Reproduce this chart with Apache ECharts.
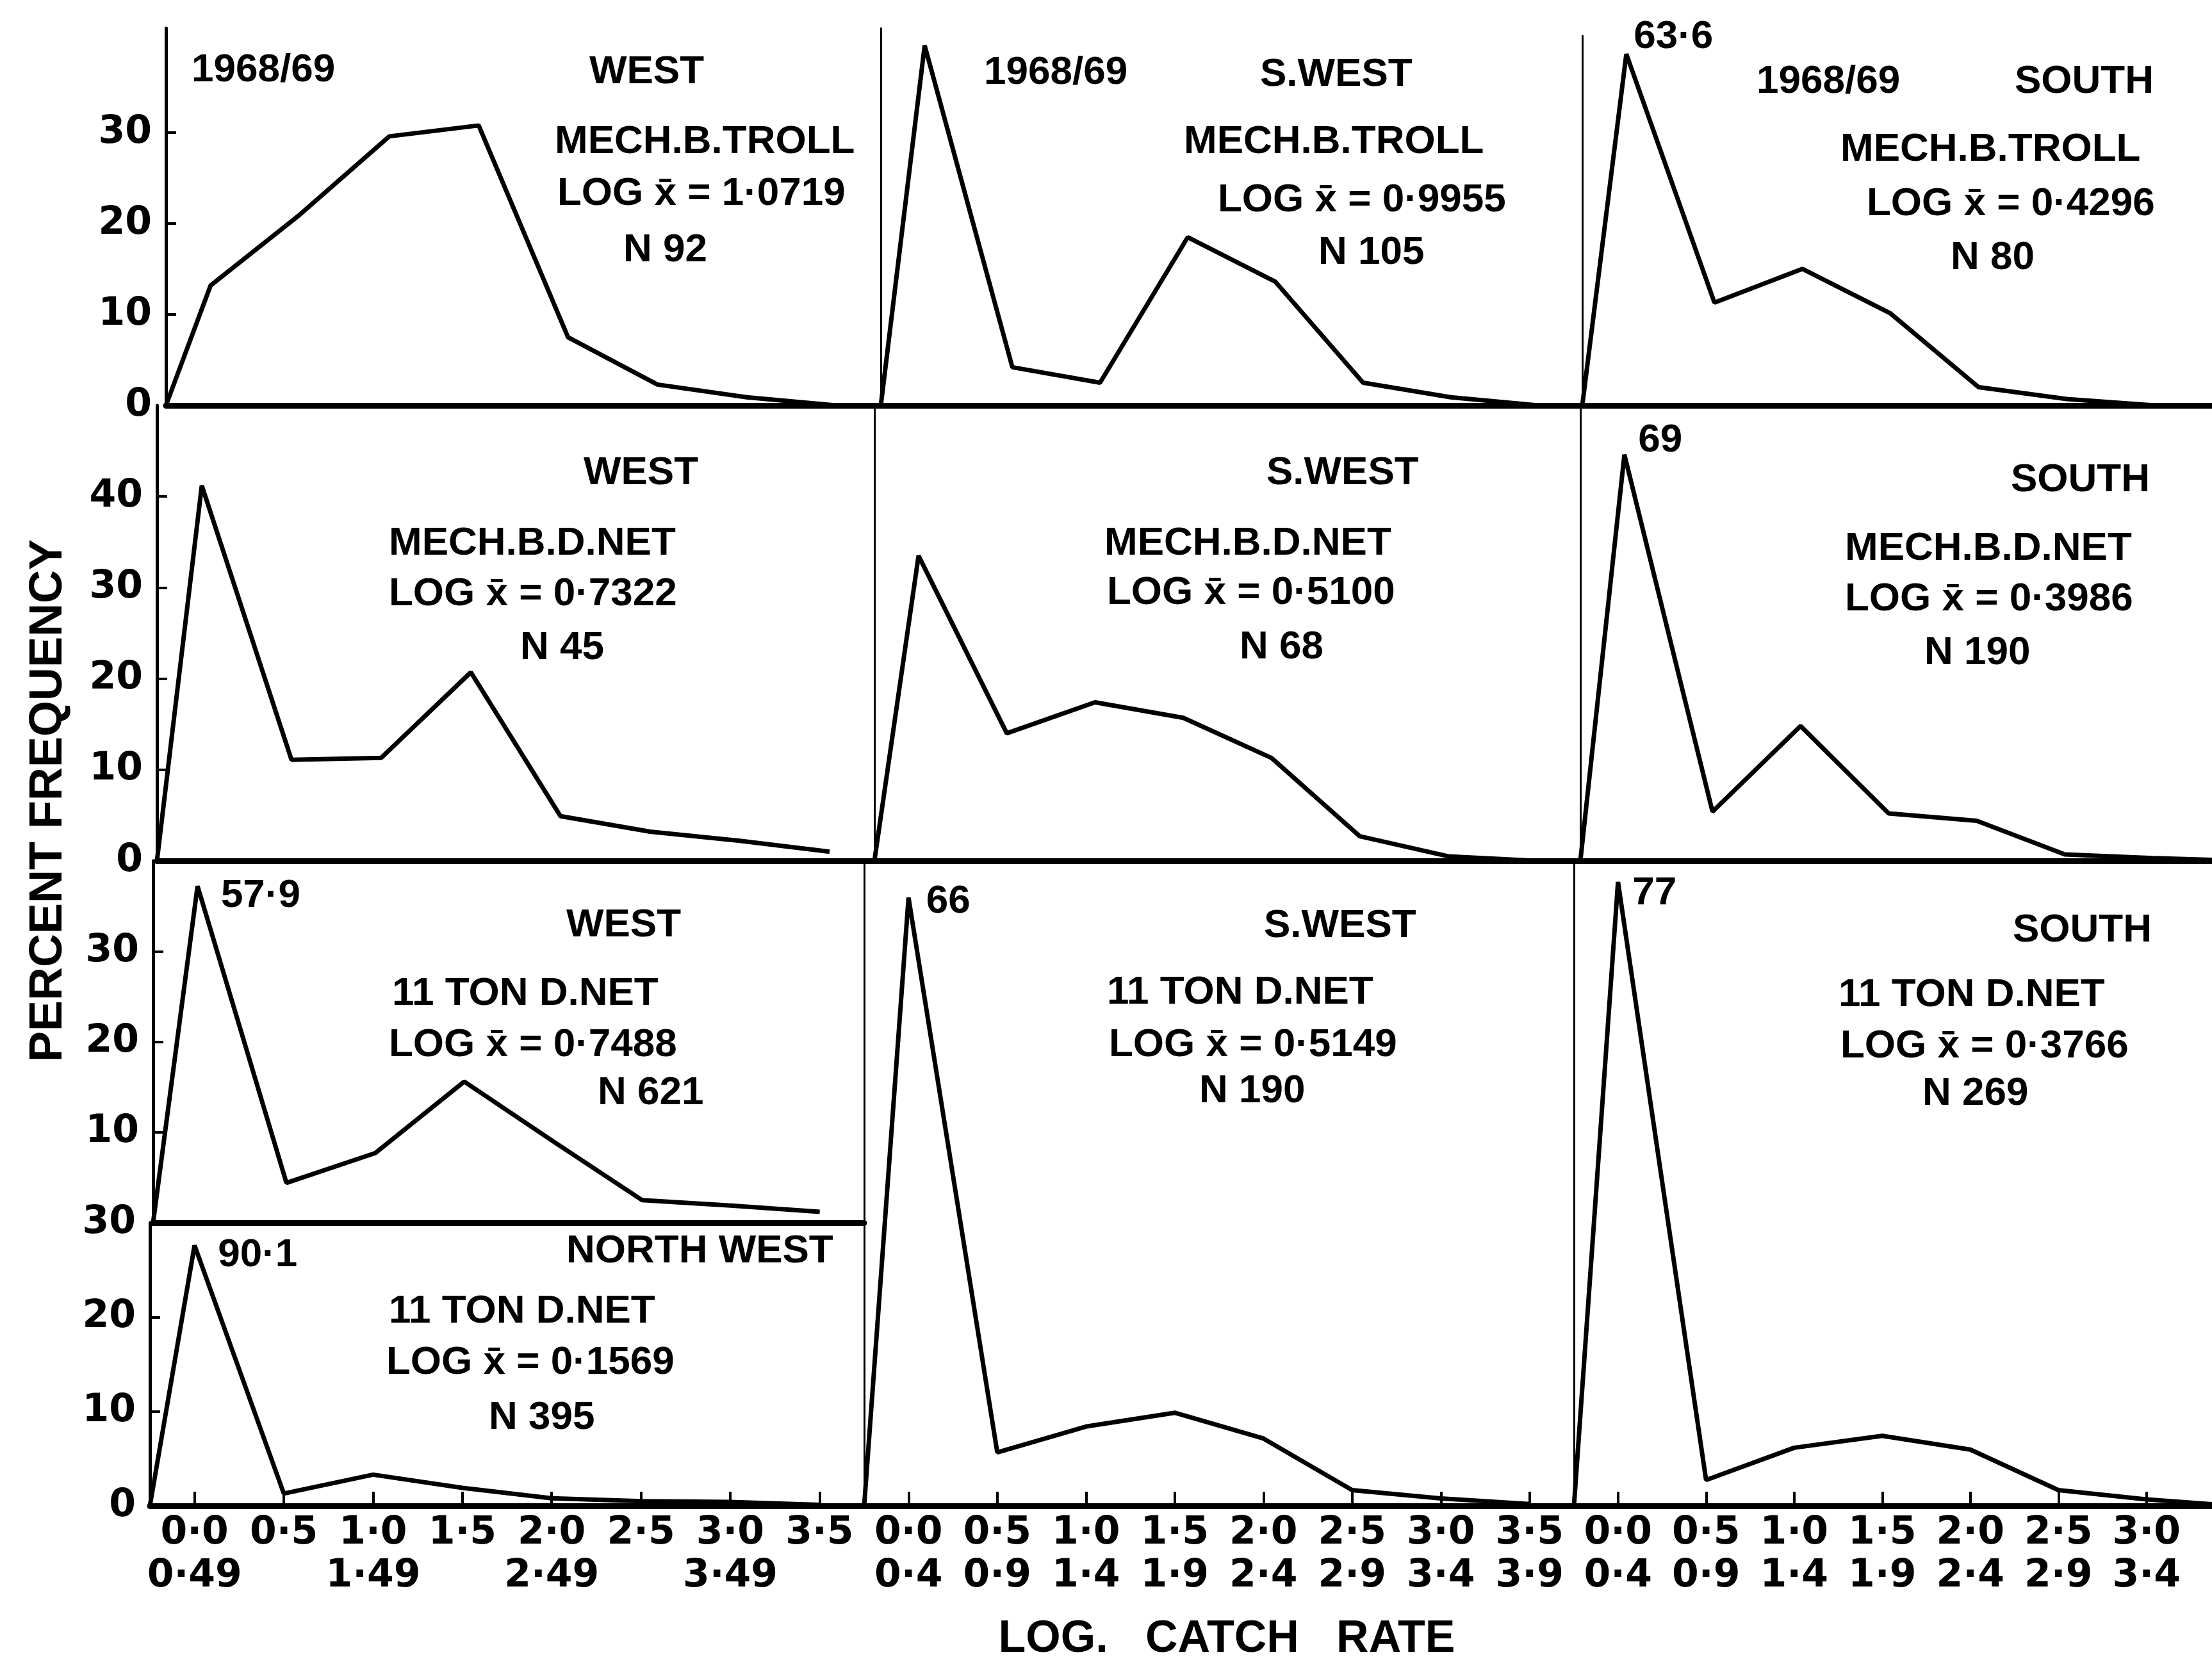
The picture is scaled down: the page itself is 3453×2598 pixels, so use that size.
<!DOCTYPE html>
<html>
<head>
<meta charset="utf-8">
<script src="https://cdn.jsdelivr.net/npm/echarts@6/dist/echarts.min.js"></script>
<style>
  html, body { margin: 0; padding: 0; background: #fff; }
  #chart { width: 3453px; height: 2598px; }
</style>
</head>
<body>
<div id="chart"></div>
<script>
// log catch rate classes
const binStarts = ['0·0', '0·5', '1·0', '1·5', '2·0', '2·5', '3·0', '3·5'];
const binEnds = ['0·4', '0·9', '1·4', '1·9', '2·4', '2·9', '3·4', '3·9'];
const binEndsWest = ['0·49', '', '1·49', '', '2·49', '', '3·49', ''];

// percent frequency in each class (as drawn)
const westTroll = [13.2, 21.0, 29.6, 30.8, 7.5, 2.3, 0.9, 0];
const swTroll = [39.6, 4.2, 2.5, 18.5, 13.6, 2.5, 0.9, 0];
const southTroll = [38.6, 11.3, 15.0, 10.1, 2.0, 0.7, 0, 0];
const westNet = [41.2, 11.1, 11.3, 20.7, 4.9, 3.2, 2.2, 1.0];
const swNet = [33.5, 14.0, 17.4, 15.7, 11.3, 2.7, 0.5, 0];
const southNet = [44.6, 5.4, 14.8, 5.2, 4.4, 0.7, 0.3, 0];
const westTon = [37.2, 4.4, 7.7, 15.6, 9.0, 2.5, 1.9, 1.2];
const nwTon = [27.6, 1.3, 3.3, 1.9, 0.8, 0.5, 0.4, 0.1];
const swTon = [66.0, 5.8, 8.6, 10.1, 7.3, 1.7, 0.8, 0.2];
const southTon = [67.7, 2.8, 6.3, 7.6, 6.1, 1.7, 0.7, 0];

// true value written beside a cut-off first peak
const peakLabels = ['', '', '63·6', '', '', '69', '57·9', '90·1', '66', '77'];

// panel captions
const seasons = ['1968/69', '1968/69', '1968/69'];
const regions = ['WEST', 'S.WEST', 'SOUTH', 'WEST', 'S.WEST', 'SOUTH', 'WEST', 'NORTH WEST', 'S.WEST', 'SOUTH'];
const gears = ['MECH.B.TROLL', 'MECH.B.TROLL', 'MECH.B.TROLL', 'MECH.B.D.NET', 'MECH.B.D.NET', 'MECH.B.D.NET',
  '11 TON D.NET', '11 TON D.NET', '11 TON D.NET', '11 TON D.NET'];
const logMeans = ['1·0719', '0·9955', '0·4296', '0·7322', '0·5100', '0·3986', '0·7488', '0·1569', '0·5149', '0·3766'];
const sampleN = ['92', '105', '80', '45', '68', '190', '621', '395', '190', '269'];

// y tick labels per row
const yTicksR1 = [0, 10, 20, 30];
const yTicksR2 = [0, 10, 20, 30, 40];
const yTicksR3 = [10, 20, 30];
const yTicksR4 = [0, 10, 20, 30];

const xLabelsWest = binStarts.map((s, k) => s + '\n' + binEndsWest[k]);
const xLabelsStd = binStarts.map((s, k) => s + '\n' + binEnds[k]);

const PAGE_W = 3453;
const CAT_W = 137.5;   // width of one class in the right-hand column, which runs off the page

// layout of the ten panels (left, top, width, height in px)
const panels = [
  { values: westTroll, box: [259, 44, 1116, 589], yMax: 41.5, yTicks: yTicksR1, xLabels: null, first: true,
    textAt: [[299, 110], [920, 113], [866, 222], [870, 303], [973, 391]] },
  { values: swTroll, box: [1375, 44, 1095, 589], yMax: 41.5, yTicks: null, xLabels: null,
    textAt: [[1536, 114], [1967, 117], [1848, 222], [1901, 313], [2058, 395]] },
  { values: southTroll, box: [2470, 56, null, 577], yMax: 40.6, yTicks: null, xLabels: null, peakOffset: [6, -27],
    textAt: [[2742, 128], [3145, 128], [2873, 234], [2914, 319], [3045, 403]] },
  { values: westNet, box: [245, 633, 1120, 711], yMax: 50, yTicks: yTicksR2, xLabels: null, first: true,
    textAt: [[911, 739], [607, 849], [607, 928], [812, 1012]] },
  { values: swNet, box: [1365, 633, 1102, 711], yMax: 50, yTicks: null, xLabels: null,
    textAt: [[1977, 739], [1724, 849], [1728, 926], [1935, 1011]] },
  { values: southNet, box: [2467, 633, null, 711], yMax: 50, yTicks: null, xLabels: null, peakOffset: [16, -22],
    textAt: [[3139, 750], [2880, 857], [2880, 936], [3004, 1020]] },
  { values: westTon, box: [239, 1344, 1110, 565], yMax: 40, yTicks: yTicksR3, xLabels: null, first: true, peakOffset: [31, 15],
    textAt: [[884, 1445], [612, 1552], [607, 1632], [933, 1707]] },
  { values: nwTon, box: [234, 1909, 1115, 442], yMax: 30, yTicks: yTicksR4, xLabels: xLabelsWest, first: true, peakOffset: [31, 16],
    textAt: [[884, 1954], [607, 2048], [603, 2128], [763, 2214]] },
  { values: swTon, box: [1349, 1344, 1108, 1007], yMax: 70, yTicks: null, xLabels: xLabelsStd, peakOffset: [22, 6],
    textAt: [[1973, 1446], [1728, 1550], [1731, 1632], [1872, 1704]] },
  { values: southTon, box: [2457, 1344, null, 1007], yMax: 70, yTicks: null, xLabels: xLabelsStd, peakOffset: [17, 18],
    textAt: [[3142, 1453], [2870, 1554], [2873, 1634], [3001, 1708]] }
];

const centers = binStarts.map((_, k) => k + 0.5);
const tickFont = { fontFamily: 'DejaVu Sans', fontWeight: 'bold', color: '#000' };
const noteFont = 'Liberation Sans';

const grids = [], xAxes = [], yAxes = [], series = [], texts = [];

panels.forEach((p, i) => {
  // right-hand panels are cut by the page edge: show only the part that fits
  let width = p.box[2], xMax = 8;
  if (width == null) {
    width = PAGE_W - p.box[0];
    xMax = width / CAT_W;
  }
  grids.push({ left: p.box[0], top: p.box[1], width: width, height: p.box[3], containLabel: false });

  const shownCenters = centers.filter(c => c < xMax);
  xAxes.push({
    gridIndex: i, type: 'value', min: 0, max: xMax,
    axisLine: { show: true, onZero: false, lineStyle: { color: '#000', width: 9 } },
    axisTick: { show: !!p.xLabels, inside: true, length: 22, customValues: shownCenters,
      lineStyle: { color: '#000', width: 4 } },
    axisLabel: { show: !!p.xLabels, customValues: shownCenters, margin: 10, lineHeight: 67, fontSize: 60,
      formatter: v => p.xLabels ? p.xLabels[Math.floor(v)] : '', ...tickFont },
    splitLine: { show: false }
  });

  const tickVals = p.yTicks ? p.yTicks.filter(v => v > 0) : [];
  yAxes.push({
    gridIndex: i, type: 'value', min: 0, max: p.yMax, interval: 10,
    axisLine: { show: true, lineStyle: { color: '#000', width: p.first ? 5 : 3 } },
    axisTick: { show: !!p.yTicks, inside: true, length: 16, customValues: tickVals,
      lineStyle: { color: '#000', width: 4 } },
    axisLabel: { show: !!p.yTicks, customValues: p.yTicks || [], margin: 22, fontSize: 60, ...tickFont },
    splitLine: { show: false }
  });

  const pts = [[0, 0]];
  p.values.forEach((v, k) => {
    if (k === 0 && peakLabels[i]) {
      pts.push({
        value: [centers[k], v],
        label: { show: true, formatter: peakLabels[i], position: 'right', offset: p.peakOffset,
          fontFamily: noteFont, fontWeight: 'bold', fontSize: 62, color: '#000' }
      });
    } else {
      pts.push([centers[k], v]);
    }
  });

  series.push({
    type: 'line', xAxisIndex: i, yAxisIndex: i, data: pts,
    symbol: 'circle', symbolSize: 1, showSymbol: true,
    itemStyle: { color: '#000' },
    lineStyle: { color: '#000', width: 7 },
    label: { show: false },
    silent: true
  });

  const lines = [];
  if (i < seasons.length) lines.push(seasons[i]);
  lines.push(regions[i], gears[i], 'LOG x̄ = ' + logMeans[i], 'N ' + sampleN[i]);
  lines.forEach((t, k) => {
    texts.push({
      type: 'text', x: p.textAt[k][0], y: p.textAt[k][1], silent: true,
      style: { text: t, fill: '#000', fontFamily: noteFont, fontWeight: 'bold', fontSize: 62,
        textAlign: 'left', textVerticalAlign: 'middle' }
    });
  });
});

texts.push({
  type: 'text', x: 76, y: 1250, rotation: Math.PI / 2, silent: true,
  style: { text: 'PERCENT FREQUENCY', fill: '#000', fontFamily: noteFont, fontWeight: 'bold', fontSize: 72,
    textAlign: 'center', textVerticalAlign: 'middle' }
});
texts.push({
  type: 'text', x: 1915, y: 2560, silent: true,
  style: { text: 'LOG.   CATCH   RATE', fill: '#000', fontFamily: noteFont, fontWeight: 'bold', fontSize: 70,
    textAlign: 'center', textVerticalAlign: 'middle' }
});

const chart = echarts.init(document.getElementById('chart'));
chart.setOption({
  backgroundColor: '#fff',
  animation: false,
  grid: grids,
  xAxis: xAxes,
  yAxis: yAxes,
  series: series,
  graphic: texts
});
</script>
</body>
</html>
